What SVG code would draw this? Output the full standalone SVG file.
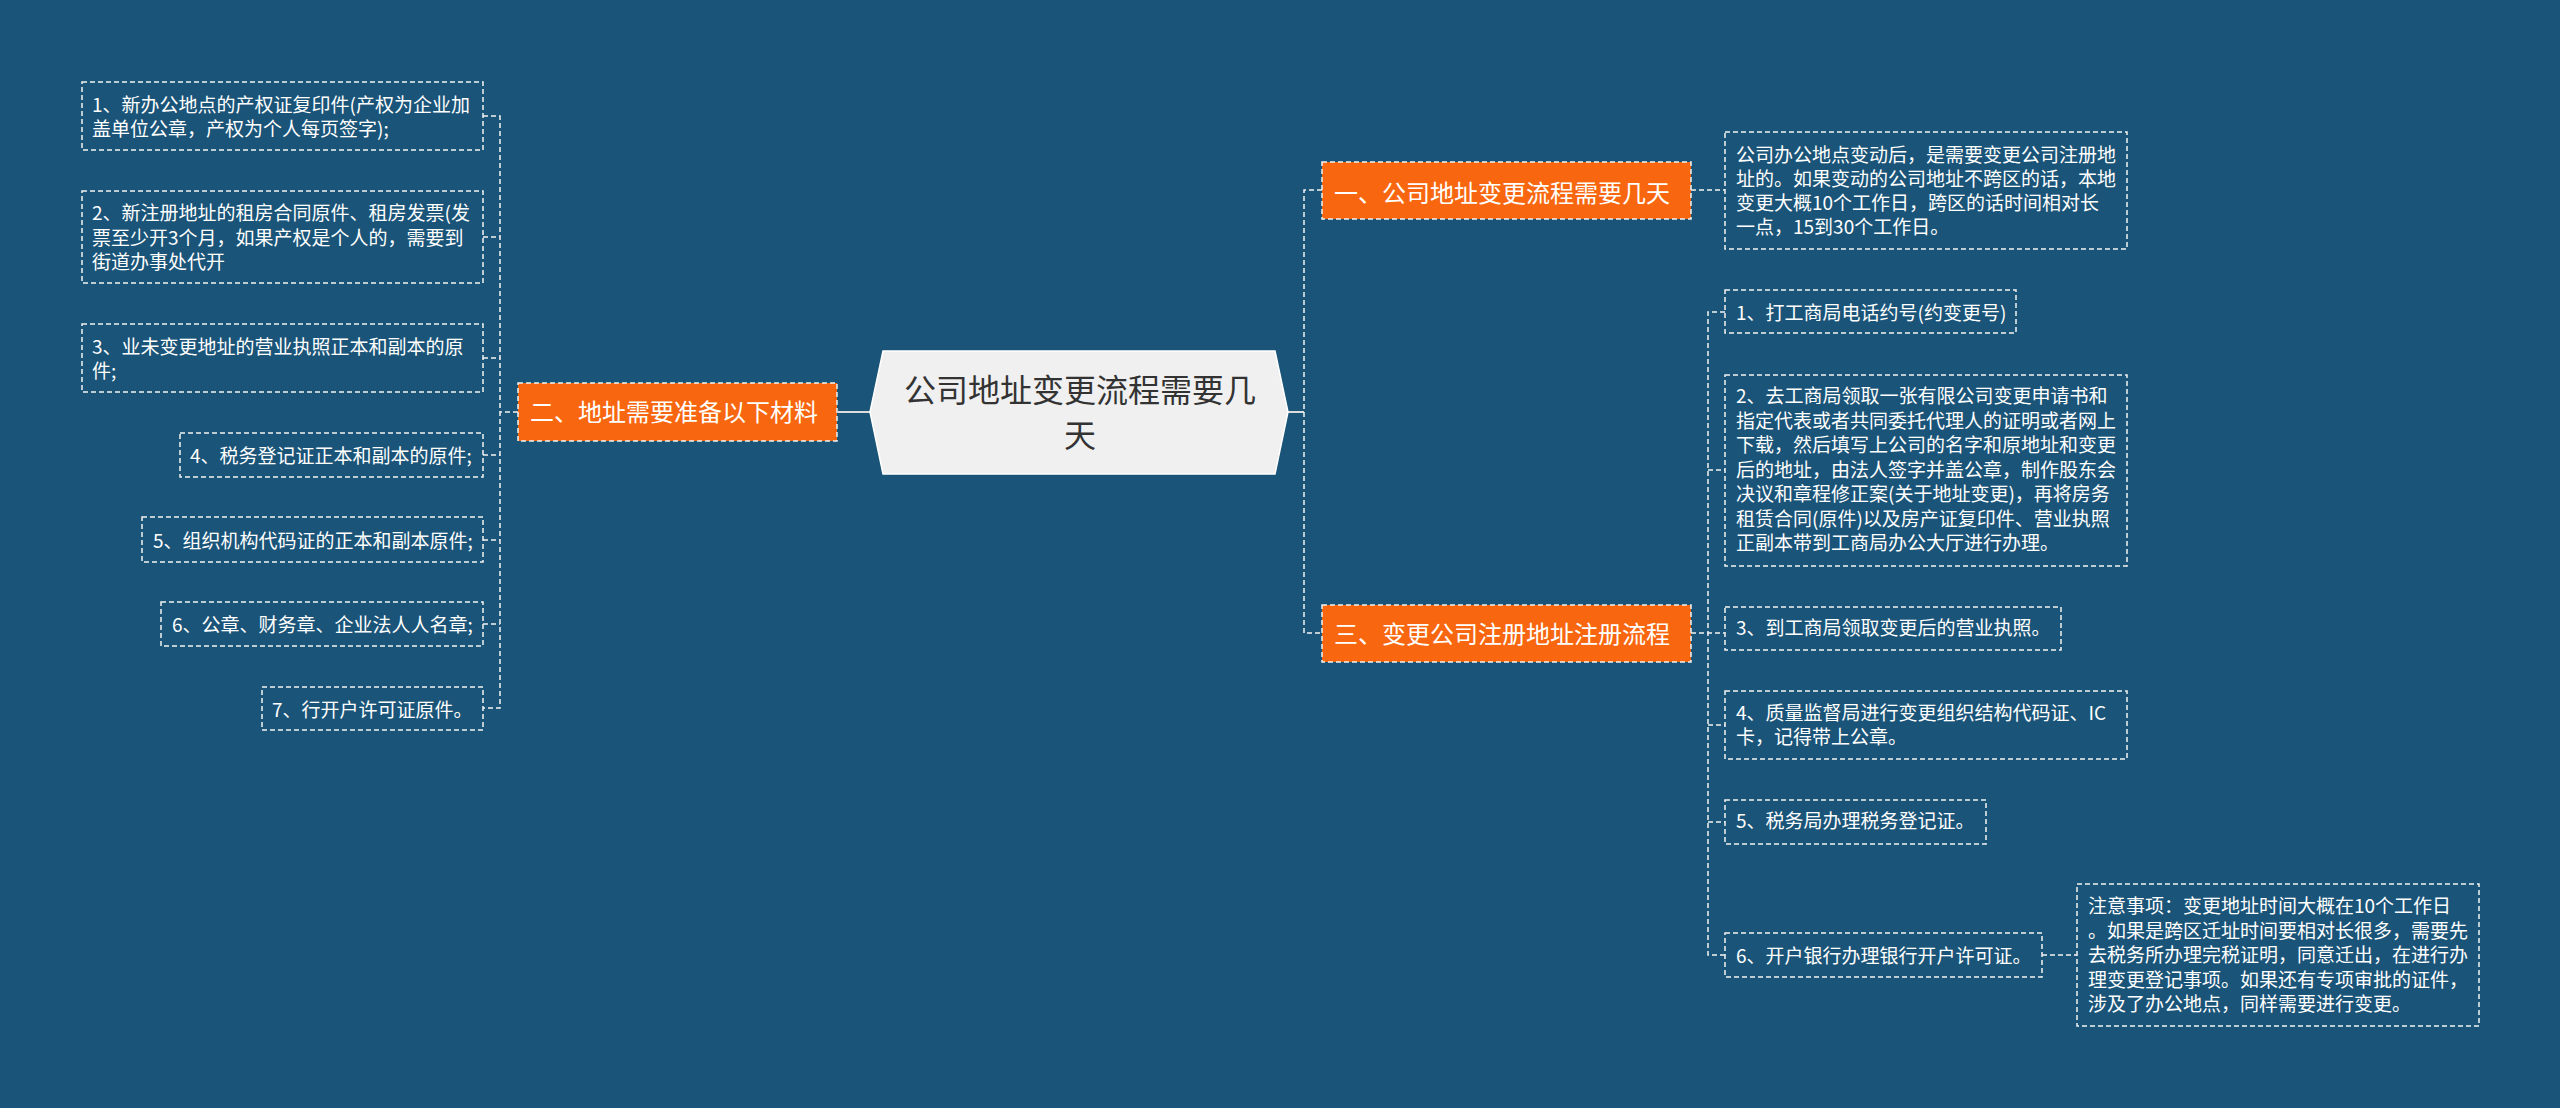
<svg xmlns="http://www.w3.org/2000/svg" width="2560" height="1108" viewBox="0 0 2560 1108">
<style>
.bg{fill:#1a5478}
.d{fill:none;stroke:#f2f2f2;stroke-width:1.5;stroke-dasharray:5 3}
.box{fill:none;stroke:#f2f2f2;stroke-width:1.5;stroke-dasharray:5 3}
.br{fill:#f8670f;stroke:#f2f2f2;stroke-width:1.5;stroke-dasharray:5 3}
.t{font-family:"Noto Sans CJK SC","Noto Sans",sans-serif;font-size:19px;fill:#ffffff}
.bt{font-family:"Noto Sans CJK SC","Noto Sans",sans-serif;font-size:24px;fill:#ffffff}
.ct{font-family:"Noto Sans CJK SC","Noto Sans",sans-serif;font-size:32px;fill:#333333;text-anchor:middle}
.s{fill:none;stroke:#dcdcdc;stroke-width:2}
</style>
<rect class="bg" x="0" y="0" width="2560" height="1108"/>

<g id="connectors">
  <line class="s" x1="838" y1="412" x2="870" y2="412"/>
  <line class="s" x1="1288" y1="412" x2="1304" y2="412"/>
  <path class="d" d="M518 412 H500"/>
  <path class="d" d="M483 116 H500 V708 H483"/>
  <path class="d" d="M483 237 H500"/>
  <path class="d" d="M483 358 H500"/>
  <path class="d" d="M483 455 H500"/>
  <path class="d" d="M483 540 H500"/>
  <path class="d" d="M483 624 H500"/>
  <path class="d" d="M1322 190 H1304 V633 H1322"/>
  <path class="d" d="M1691 190 H1725"/>
  <path class="d" d="M1691 633 H1725"/>
  <path class="d" d="M1725 312 H1708 V955 H1725"/>
  <path class="d" d="M1708 470 H1725"/>
  <path class="d" d="M1708 725 H1725"/>
  <path class="d" d="M1708 822 H1725"/>
  <path class="d" d="M2042 955 H2077"/>
</g>

<g id="central">
  <polygon points="883,351 1275,351 1288,412 1275,474 883,474 870,412" fill="#f0f0f0" stroke="#ffffff" stroke-width="1.5"/>
  <text class="ct" x="1080" y="402">公司地址变更流程需要几</text>
  <text class="ct" x="1080" y="447">天</text>
</g>

<g id="branch-2">
  <rect class="br" x="518" y="383" width="319" height="58"/>
  <text class="bt" x="530" y="421">二、地址需要准备以下材料</text>
</g>
<g id="branch-1">
  <rect class="br" x="1322" y="162" width="369" height="57"/>
  <text class="bt" x="1334" y="202">一、公司地址变更流程需要几天</text>
</g>
<g id="branch-3">
  <rect class="br" x="1322" y="605" width="369" height="57"/>
  <text class="bt" x="1334" y="643">三、变更公司注册地址注册流程</text>
</g>

<g id="left-1">
  <rect class="box" x="82" y="82" width="401" height="68"/>
  <text class="t" x="92" y="112">1、新办公地点的产权证复印件(产权为企业加</text>
  <text class="t" x="92" y="136">盖单位公章，产权为个人每页签字);</text>
</g>
<g id="left-2">
  <rect class="box" x="82" y="191" width="401" height="92"/>
  <text class="t" x="92" y="220">2、新注册地址的租房合同原件、租房发票(发</text>
  <text class="t" x="92" y="244.5">票至少开3个月，如果产权是个人的，需要到</text>
  <text class="t" x="92" y="269">街道办事处代开</text>
</g>
<g id="left-3">
  <rect class="box" x="82" y="324" width="401" height="68"/>
  <text class="t" x="92" y="354">3、业未变更地址的营业执照正本和副本的原</text>
  <text class="t" x="92" y="378">件;</text>
</g>
<g id="left-4">
  <rect class="box" x="180" y="433" width="303" height="44"/>
  <text class="t" x="190" y="463">4、税务登记证正本和副本的原件;</text>
</g>
<g id="left-5">
  <rect class="box" x="142" y="517" width="341" height="45"/>
  <text class="t" x="153" y="548">5、组织机构代码证的正本和副本原件;</text>
</g>
<g id="left-6">
  <rect class="box" x="161" y="602" width="322" height="44"/>
  <text class="t" x="172" y="632">6、公章、财务章、企业法人人名章;</text>
</g>
<g id="left-7">
  <rect class="box" x="262" y="687" width="221" height="43"/>
  <text class="t" x="272" y="717">7、行开户许可证原件。</text>
</g>

<g id="right-a">
  <rect class="box" x="1725" y="132" width="402" height="117"/>
  <text class="t" x="1736" y="162">公司办公地点变动后，是需要变更公司注册地</text>
  <text class="t" x="1736" y="186">址的。如果变动的公司地址不跨区的话，本地</text>
  <text class="t" x="1736" y="210">变更大概10个工作日，跨区的话时间相对长</text>
  <text class="t" x="1736" y="234">一点，15到30个工作日。</text>
</g>
<g id="step-1">
  <rect class="box" x="1725" y="290" width="291" height="43"/>
  <text class="t" x="1736" y="320">1、打工商局电话约号(约变更号)</text>
</g>
<g id="step-2">
  <rect class="box" x="1725" y="375" width="402" height="191"/>
  <text class="t" x="1736" y="403">2、去工商局领取一张有限公司变更申请书和</text>
  <text class="t" x="1736" y="427.5">指定代表或者共同委托代理人的证明或者网上</text>
  <text class="t" x="1736" y="452">下载，然后填写上公司的名字和原地址和变更</text>
  <text class="t" x="1736" y="476.5">后的地址，由法人签字并盖公章，制作股东会</text>
  <text class="t" x="1736" y="501">决议和章程修正案(关于地址变更)，再将房务</text>
  <text class="t" x="1736" y="525.5">租赁合同(原件)以及房产证复印件、营业执照</text>
  <text class="t" x="1736" y="550">正副本带到工商局办公大厅进行办理。</text>
</g>
<g id="step-3">
  <rect class="box" x="1725" y="607" width="336" height="43"/>
  <text class="t" x="1736" y="635">3、到工商局领取变更后的营业执照。</text>
</g>
<g id="step-4">
  <rect class="box" x="1725" y="691" width="402" height="68"/>
  <text class="t" x="1736" y="720">4、质量监督局进行变更组织结构代码证、IC</text>
  <text class="t" x="1736" y="744">卡，记得带上公章。</text>
</g>
<g id="step-5">
  <rect class="box" x="1725" y="800" width="261" height="44"/>
  <text class="t" x="1736" y="828">5、税务局办理税务登记证。</text>
</g>
<g id="step-6">
  <rect class="box" x="1725" y="933" width="317" height="44"/>
  <text class="t" x="1736" y="963">6、开户银行办理银行开户许可证。</text>
</g>
<g id="note">
  <rect class="box" x="2077" y="884" width="402" height="142"/>
  <text class="t" x="2088" y="913">注意事项：变更地址时间大概在10个工作日</text>
  <text class="t" x="2088" y="937.5">。如果是跨区迁址时间要相对长很多，需要先</text>
  <text class="t" x="2088" y="962">去税务所办理完税证明，同意迁出，在进行办</text>
  <text class="t" x="2088" y="986.5">理变更登记事项。如果还有专项审批的证件，</text>
  <text class="t" x="2088" y="1011">涉及了办公地点，同样需要进行变更。</text>
</g>
</svg>
